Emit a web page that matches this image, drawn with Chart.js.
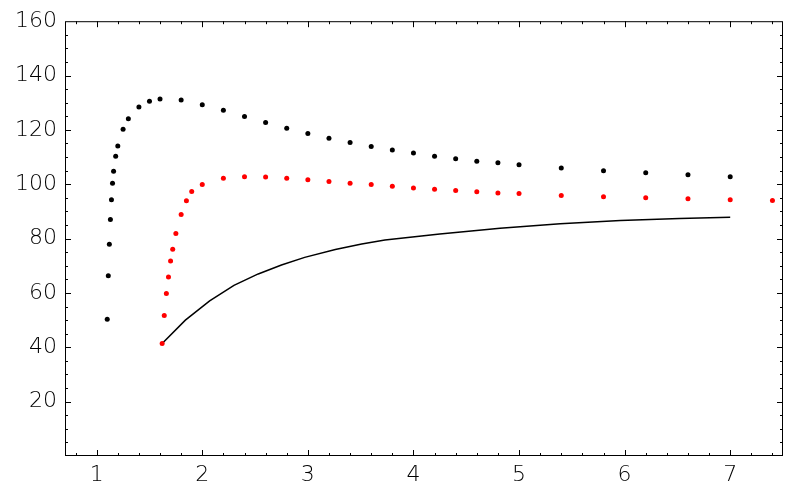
<!DOCTYPE html>
<html>
<head>
<meta charset="utf-8">
<script src="https://cdn.jsdelivr.net/npm/chart.js@4.4.1/dist/chart.umd.min.js"></script>
<style>
  body { margin: 0; background: #fff; }
</style>
</head>
<body>
<canvas id="plot" width="791" height="489"></canvas>
<script>
const blackX = [1.10, 1.11, 1.12, 1.13, 1.14, 1.15, 1.16, 1.18, 1.20, 1.25, 1.30, 1.40, 1.50, 1.60, 1.80, 2.0, 2.2, 2.4, 2.6, 2.8, 3.0, 3.2, 3.4, 3.6, 3.8, 4.0, 4.2, 4.4, 4.6, 4.8, 5.0, 5.4, 5.8, 6.2, 6.6, 7.0];
const blackY = [50.3, 66.3, 77.9, 87.0, 94.3, 100.4, 104.8, 110.3, 114.1, 120.2, 124.1, 128.4, 130.5, 131.4, 131.0, 129.3, 127.2, 124.9, 122.7, 120.6, 118.7, 116.9, 115.4, 113.9, 112.6, 111.5, 110.3, 109.4, 108.5, 107.9, 107.2, 106.0, 105.0, 104.2, 103.5, 102.8];

const redX = [1.62, 1.64, 1.66, 1.68, 1.70, 1.72, 1.75, 1.80, 1.85, 1.90, 2.0, 2.2, 2.4, 2.6, 2.8, 3.0, 3.2, 3.4, 3.6, 3.8, 4.0, 4.2, 4.4, 4.6, 4.8, 5.0, 5.4, 5.8, 6.2, 6.6, 7.0, 7.4];
const redY = [41.4, 51.7, 59.8, 65.9, 71.8, 76.1, 81.9, 88.9, 93.9, 97.3, 99.9, 102.2, 102.8, 102.7, 102.2, 101.7, 101.0, 100.4, 99.9, 99.3, 98.6, 98.2, 97.7, 97.2, 96.8, 96.6, 95.9, 95.4, 95.0, 94.7, 94.3, 94.0];

const curveX = [1.62, 1.84, 2.07, 2.30, 2.53, 2.75, 2.97, 3.26, 3.51, 3.73, 4.25, 4.82, 5.39, 5.96, 6.52, 7.0];
const curveY = [41.4, 50.0, 57.1, 62.8, 67.0, 70.3, 73.1, 76.0, 78.0, 79.5, 81.7, 83.8, 85.5, 86.7, 87.4, 87.9];

const xTicks = [1, 2, 3, 4, 5, 6, 7];
const yTicks = [20, 40, 60, 80, 100, 120, 140, 160];

const toPoints = (xs, ys) => xs.map((x, i) => ({x: x, y: ys[i]}));

const tickFont = {family: 'DejaVu Sans', size: 22, weight: 300};

// mathematica style box with inward ticks on all four sides
const frameTicks = {
    id: 'frameTicks',
    afterDraw(chart) {
        const ctx = chart.ctx;
        const a = chart.chartArea;
        const xs = chart.scales.x;
        const ys = chart.scales.y;
        ctx.save();
        ctx.strokeStyle = '#000';
        ctx.lineWidth = 1;
        ctx.strokeRect(a.left + 0.5, a.top + 0.5, a.right - a.left - 1, a.bottom - a.top - 1);
        ctx.beginPath();
        for (let i = Math.ceil(xs.min * 5); i <= Math.floor(xs.max * 5); i++) {
            const px = Math.round(xs.getPixelForValue(i / 5)) + 0.5;
            const len = i % 5 === 0 ? 6 : 3;
            ctx.moveTo(px, a.bottom); ctx.lineTo(px, a.bottom - len);
            ctx.moveTo(px, a.top); ctx.lineTo(px, a.top + len);
        }
        for (let v = 5; v < ys.max; v += 5) {
            const py = Math.round(ys.getPixelForValue(v)) + 0.5;
            const len = v % 20 === 0 ? 6 : 3;
            ctx.moveTo(a.left, py); ctx.lineTo(a.left + len, py);
            ctx.moveTo(a.right, py); ctx.lineTo(a.right - len, py);
        }
        ctx.stroke();
        ctx.restore();
    }
};

new Chart(document.getElementById('plot').getContext('2d'), {
    type: 'scatter',
    data: {
        datasets: [{
            data: toPoints(blackX, blackY),
            backgroundColor: '#000',
            pointRadius: 2.5,
            pointBorderWidth: 0
        }, {
            data: toPoints(redX, redY),
            backgroundColor: '#ff0000',
            pointRadius: 2.5,
            pointBorderWidth: 0
        }, {
            data: toPoints(curveX, curveY),
            showLine: true,
            borderColor: '#000',
            borderWidth: 1.5,
            pointRadius: 0,
            tension: 0
        }]
    },
    options: {
        responsive: false,
        devicePixelRatio: 1,
        animation: false,
        layout: {padding: {top: 12, right: 8, left: 0, bottom: 0}},
        plugins: {legend: {display: false}, tooltip: {enabled: false}},
        scales: {
            x: {
                type: 'linear',
                min: 0.7,
                max: 7.5,
                grid: {display: false, drawTicks: false},
                border: {display: false},
                ticks: {font: tickFont, color: '#000', padding: 6},
                afterBuildTicks: (scale) => { scale.ticks = xTicks.map(v => ({value: v})); },
                afterFit: (scale) => { scale.height = 33; }
            },
            y: {
                type: 'linear',
                min: 0,
                max: 160,
                grid: {display: false, drawTicks: false},
                border: {display: false},
                ticks: {font: tickFont, color: '#000', padding: 8},
                afterBuildTicks: (scale) => { scale.ticks = yTicks.map(v => ({value: v})); },
                afterFit: (scale) => { scale.width = 65; }
            }
        }
    },
    plugins: [frameTicks]
});
</script>
</body>
</html>
